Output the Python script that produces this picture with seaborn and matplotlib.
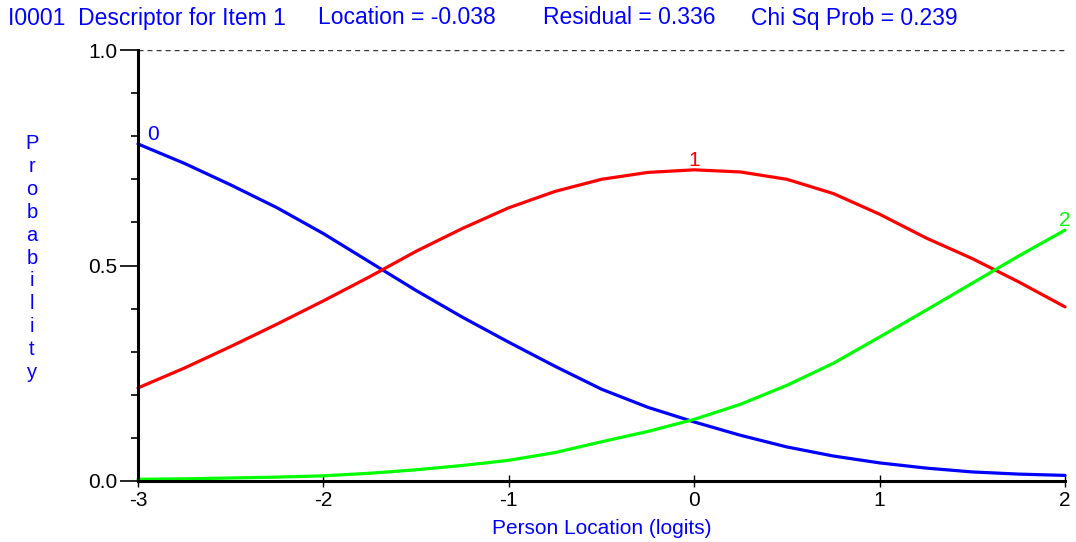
import matplotlib
matplotlib.use("Agg")
import matplotlib.pyplot as plt
import numpy as np
import pandas as pd
import seaborn as sns
from matplotlib.ticker import MultipleLocator

# valeurs (courbes de probabilité par catégorie)
location = [-3.0, -2.75, -2.5, -2.25, -2.0, -1.75, -1.5, -1.25, -1.0, -0.75, -0.5,
            -0.25, 0.0, 0.25, 0.5, 0.75, 1.0, 1.25, 1.5, 1.75, 2.0]
prob_cat0 = [0.782, 0.737, 0.687, 0.634, 0.574, 0.508, 0.442, 0.380, 0.322, 0.266, 0.213,
             0.171, 0.137, 0.106, 0.079, 0.058, 0.042, 0.030, 0.021, 0.016, 0.013]
prob_cat1 = [0.216, 0.262, 0.312, 0.364, 0.418, 0.474, 0.533, 0.586, 0.634, 0.672, 0.700,
             0.716, 0.722, 0.717, 0.700, 0.667, 0.619, 0.564, 0.516, 0.462, 0.404]
prob_cat2 = [0.004, 0.005, 0.007, 0.009, 0.012, 0.018, 0.026, 0.036, 0.048, 0.066, 0.091,
             0.115, 0.143, 0.178, 0.222, 0.273, 0.334, 0.396, 0.459, 0.522, 0.582]
categories = ["0", "1", "2"]
couleurs = ["#0000FF", "#FF0000", "#00FF00"]

titres = ["I0001  Descriptor for Item 1", "Location = -0.038",
          "Residual = 0.336", "Chi Sq Prob = 0.239"]
titres_x = [8, 318, 543, 751]

sns.set_theme(style="white")
plt.rcParams["font.family"] = ["Liberation Sans", "DejaVu Sans"]

df = pd.DataFrame({
    "location": location * 3,
    "prob": prob_cat0 + prob_cat1 + prob_cat2,
    "categorie": [c for c in categories for _ in location],
})

W, H = 1076, 542
fig = plt.figure(figsize=(W / 100, H / 100), dpi=100)
ax = fig.add_axes([138 / W, 61 / H, 927 / W, 431 / H])

sns.lineplot(data=df, x="location", y="prob", hue="categorie", palette=couleurs,
             linewidth=2.3, legend=False, ax=ax, clip_on=False)

ax.axhline(1.0, color="#333333", linewidth=1.0, linestyle=(0, (3.6, 2.9)))

ax.set_xlim(-3, 2)
ax.set_ylim(0, 1)
ax.xaxis.set_major_locator(MultipleLocator(1))
ax.yaxis.set_major_locator(MultipleLocator(0.5))
ax.yaxis.set_minor_locator(MultipleLocator(0.1))
ax.yaxis.set_major_formatter(lambda v, p: f"{v:.1f}")
ax.xaxis.set_major_formatter(lambda v, p: f"{v:.0f}")

for s in ["top", "right"]:
    ax.spines[s].set_visible(False)
for s in ["left", "bottom"]:
    ax.spines[s].set_color("black")
    ax.spines[s].set_linewidth(2.2)

ax.tick_params(axis="x", which="major", direction="inout", length=8, width=1,
               colors="black", labelsize=15, pad=3, bottom=True)
ax.tick_params(axis="y", which="major", direction="out", length=13, width=1.2,
               colors="black", labelsize=15, pad=2, left=True)
ax.tick_params(axis="y", which="minor", direction="out", length=5, width=1.2,
               colors="black", left=True)

ax.set_xlabel("Person Location (logits)", color="#0000FF", fontsize=15, labelpad=7)
ax.set_ylabel("")

# étiquettes des catégories sur les courbes
ax.text(location[0] + 0.05, prob_cat0[0], "0", color=couleurs[0], fontsize=15,
        ha="left", va="bottom")
i_max = int(np.argmax(prob_cat1))
ax.text(location[i_max], prob_cat1[i_max], "1", color=couleurs[1], fontsize=15,
        ha="center", va="bottom")
ax.text(location[-1], prob_cat2[-1], "2", color=couleurs[2], fontsize=15,
        ha="center", va="bottom")

# libellé vertical lettre par lettre
fig.text(32 / W, 1 - 258 / H, "\n".join("Probability"), color="#0000FF",
         fontsize=14.5, ha="center", va="center", linespacing=1.26)

for t, x in zip(titres, titres_x):
    fig.text(x / W, 1 - 18 / H, t, color="#0000FF", fontsize=16.5, ha="left",
             va="center")

fig.savefig("out.png", dpi=100)
